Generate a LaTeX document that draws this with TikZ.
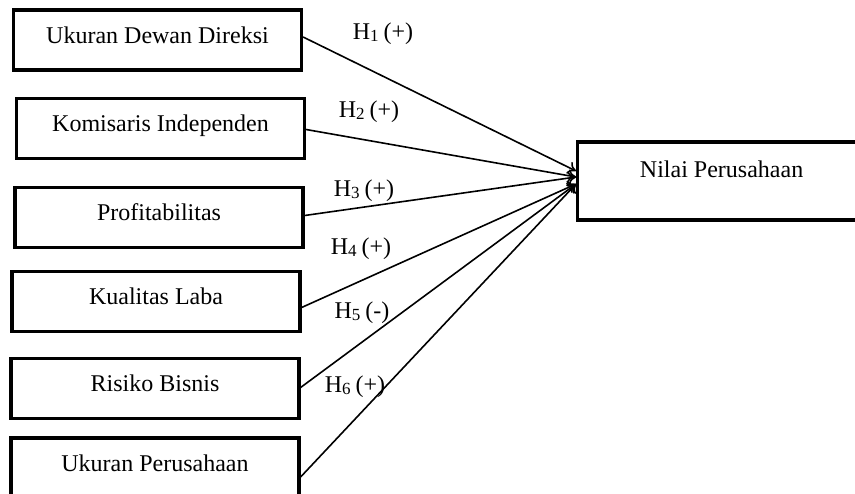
\documentclass[tikz,border=0pt]{standalone}
\usepackage{fontspec}
\setmainfont{Liberation Serif}
\usepackage{tikz}
\usetikzlibrary{positioning}
\usetikzlibrary{arrows.meta}

\tikzset{
  varbox/.style={draw, line width=1.6pt, inner sep=0pt, minimum width=144pt,
    text height=16.5pt, text depth=13.5pt, font=\fontsize{12}{14}\selectfont},
  hyp/.style={inner sep=0pt, font=\fontsize{12}{14}\selectfont},
  link/.style={-{To[length=4pt,width=6.5pt]}, line width=0.8pt}
}
\newcommand{\hsub}[2]{H{\fontsize{8.5}{9}\selectfont\raisebox{-1pt}{#1}}\hspace{2.5pt}(#2)}

\begin{document}
\begin{tikzpicture}[x=0.5pt, y=-0.5pt]
    \useasboundingbox (0,0) rectangle (855,493);

    % Independent variables
    \node[varbox] (udd)  at (157.5,40)  {Ukuran Dewan Direksi};
    \node[varbox] (ki)   at (160.5,128.5) {Komisaris Independen};
    \node[varbox] (prof) at (159,217.5) {Profitabilitas};
    \node[varbox] (kl)   at (156,301.5) {Kualitas Laba};
    \node[varbox] (rb)   at (155,388.5) {Risiko Bisnis};
    \node[varbox] (up)   at (155,468)   {Ukuran Perusahaan};

    % Dependent variable
    \node[varbox, text height=17.5pt, text depth=21.5pt, anchor=west] (nilai) at (576,181) {Nilai Perusahaan};

    % Hypotheses
    \foreach \src/\sy/\dy in {udd/1.5pt/5pt, ki/-0.5pt/2pt, prof/1pt/2pt,
                              kl/-3pt/-1.5pt, rb/0.5pt/-1.5pt, up/-4.5pt/-1.5pt}
        \draw[link] ([yshift=\sy]\src.east) -- ([yshift=\dy]nilai.west);

    \node[hyp] (h1) at (383,34)  {\hsub{1}{+}};
    \node[hyp] (h2) at (369,112) {\hsub{2}{+}};
    \node[hyp] (h3) at (364,191) {\hsub{3}{+}};
    \node[hyp] (h4) at (361,249) {\hsub{4}{+}};
    \node[hyp] (h5) at (362,313) {\hsub{5}{-}};
    \node[hyp] (h6) at (355,387) {\hsub{6}{+}};
\end{tikzpicture}
\end{document}
